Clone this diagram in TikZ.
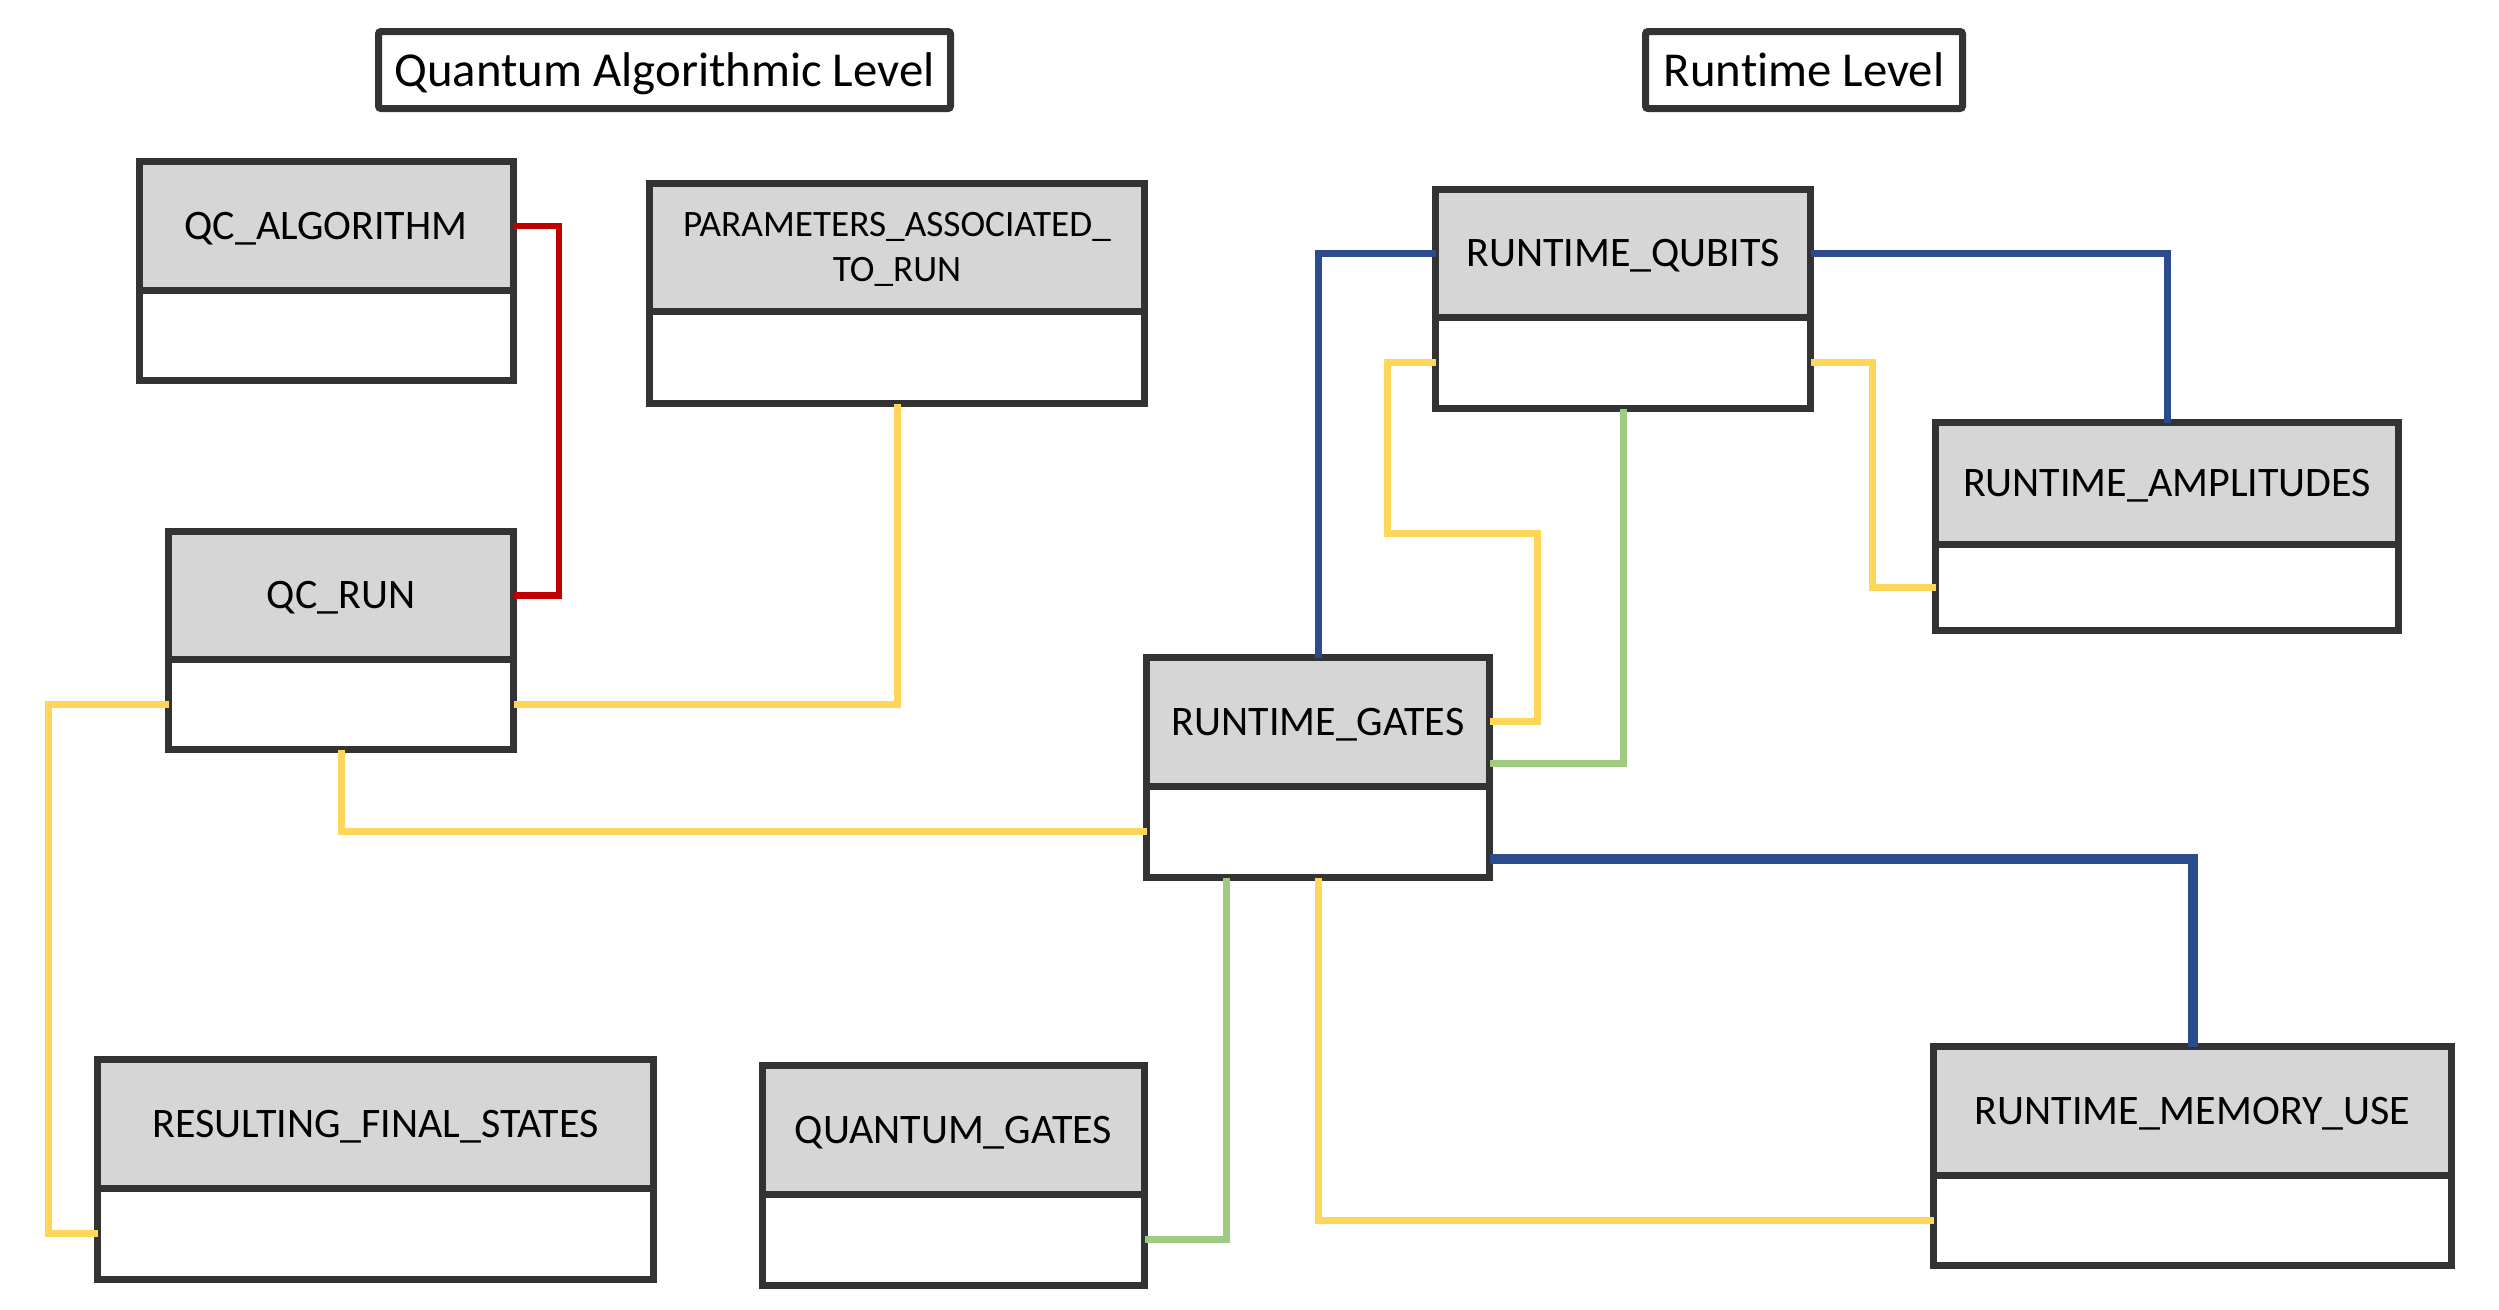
\documentclass[tikz,border=0pt]{standalone}
\usepackage{fontspec}
\setmainfont{Carlito}[Ligatures=NoCommon]
\usetikzlibrary{calc}
\definecolor{bord}{HTML}{333333}
\definecolor{hdrgray}{HTML}{D6D6D6}
\definecolor{ylw}{HTML}{FFD55A}
\definecolor{rdc}{HTML}{C00000}
\definecolor{blu}{HTML}{2B4C8C}
\definecolor{grn}{HTML}{9ECB81}
\tikzset{
  hdr/.style={draw=bord, line width=2.8pt, fill=hdrgray, inner sep=0pt, outer sep=0pt, align=center, text depth=0pt, font=\fontsize{16.8}{18}\selectfont},
  bdy/.style={draw=bord, line width=2.8pt, fill=white, inner sep=0pt, outer sep=0pt},
  ttl/.style={draw=bord, line width=2.8pt, fill=white, inner sep=0pt, outer sep=0pt, rounded corners=1pt, text depth=0pt, font=\fontsize{19.5}{22}\selectfont},
  yl/.style={draw=ylw, line width=2.8pt},
  rl/.style={draw=rdc, line width=2.6pt},
  bl/.style={draw=blu, line width=2.8pt},
  blthick/.style={draw=blu, line width=4pt},
  gl/.style={draw=grn, line width=2.8pt}
}
\newcommand{\umlbox}[7]{%
  \pgfmathsetmacro\bw{(#3-#2-7)*0.4}%
  \pgfmathsetmacro\hh{(#5-#4-3.5)*0.4}%
  \pgfmathsetmacro\bh{(#6-#5-3.5)*0.4}%
  \node[bdy, minimum width=\bw pt, minimum height=\bh pt, anchor=north west] (#1b) at (#2+3.5, #5) {};
  \node[hdr, minimum width=\bw pt, minimum height=\hh pt, anchor=north west] (#1) at (#2+3.5, #4+3.5) {#7};
}
\begin{document}
\begin{tikzpicture}[x=0.4pt, y=-0.4pt]
\fill[white] (0,0) rectangle (2499,1309);
\useasboundingbox (0,0) rectangle (2499,1309);

% boxes
\umlbox{qa}{135.5}{516.6}{158}{290}{384}{QC\_ALGORITHM}
\umlbox{pa}{646}{1148}{180}{311}{407}{\fontsize{14.9}{18}\selectfont PARAMETERS\_ASSOCIATED\_\\\fontsize{14.9}{18}\selectfont TO\_RUN}
\umlbox{qr}{165}{517}{528}{659}{753}{QC\_RUN}
\umlbox{rs}{94}{657}{1056}{1188}{1283}{RESULTING\_FINAL\_STATES}
\umlbox{qg}{759}{1148}{1062}{1194}{1289}{QUANTUM\_GATES}
\umlbox{rg}{1143}{1493}{654}{786}{881}{RUNTIME\_GATES}
\umlbox{rq}{1432}{1814}{186}{317}{412}{RUNTIME\_QUBITS}
\umlbox{ra}{1932}{2402}{419}{544}{634}{RUNTIME\_AMPLITUDES}
\umlbox{rm}{1930}{2455}{1043}{1175}{1269}{RUNTIME\_MEMORY\_USE}

\node[ttl, minimum width=228.8pt, minimum height=30.8pt] (t1) at (664.5,70) {Quantum Algorithmic Level};
\node[ttl, minimum width=126.8pt, minimum height=30.8pt] (t2) at (1804,70) {Runtime Level};

% red
\draw[rl] (qa.east) -- ++(46,0) |- (qr.east);
% yellow
\draw[yl] (pab.south) |- (qrb.east);
\draw[yl] (qrb.west) -- ++(-120,0) |- (rsb.west);
\draw[yl] (qrb.south) |- (rgb.west);
\draw[yl] (rqb.west) -| (1387,533) -- (1537,533) |- (rg.east);
\draw[yl] (rqb.east) -- ++(62,0) |- (rab.west);
\draw[yl] (rgb.south) |- (rmb.west);
% blue
\draw[bl] (rq.west) -| (rg.north);
\draw[bl] (rq.east) -| (ra.north);
\draw[blthick] ($(rgb.east)+(0,27)$) -| (rm.north);
% green
\draw[gl] (rqb.south) |- ($(rg.east)+(0,42)$);
\draw[gl] ($(rgb.south)+(-92,0)$) |- (qgb.east);
\end{tikzpicture}
\end{document}
